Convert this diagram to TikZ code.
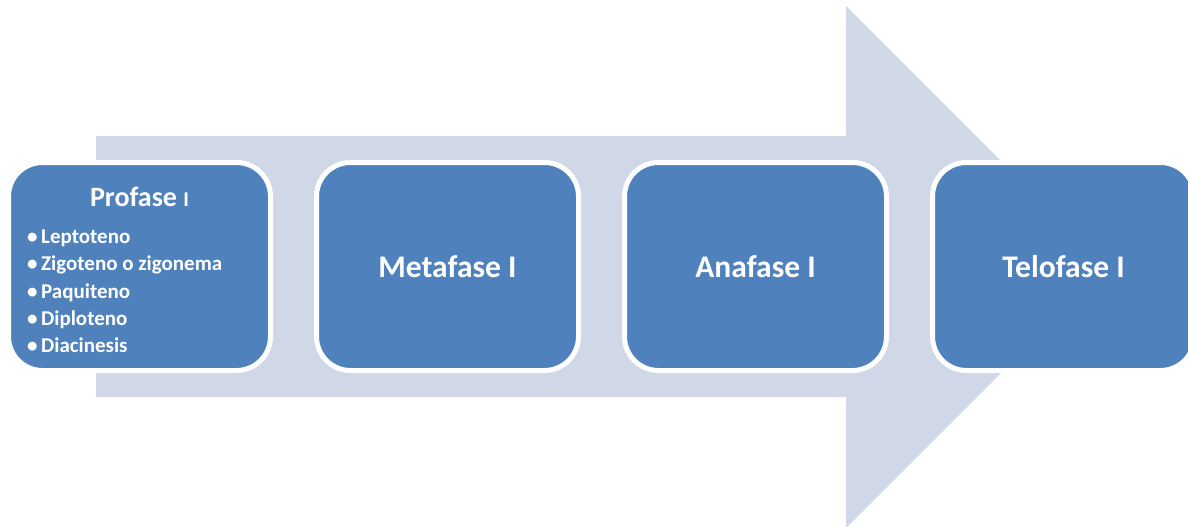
\documentclass[tikz,border=0pt]{standalone}
\usepackage{fontspec}
\setmainfont{Carlito}
\usepackage{tikz}
\usetikzlibrary{positioning, calc}
\definecolor{phasefill}{RGB}{79, 129, 189}
\definecolor{arrowfill}{RGB}{208, 216, 232}

\begin{document}
\begin{tikzpicture}[
    x=1pt, y=-1pt,
    node distance=41pt,
    phase/.style={draw=white, line width=5pt, fill=phasefill, rounded corners=34pt, minimum width=262pt, minimum height=208pt, text=white, font=\bfseries\fontsize{31.5}{38}\selectfont, align=center},
    heading/.style={text=white, font=\bfseries\fontsize{28}{33}\selectfont, inner sep=0pt},
    sublist/.style={text=white, font=\bfseries\fontsize{21}{27.3}\selectfont, align=left, inner sep=0pt}
]
    \clip (0,0) rectangle (1188,527);

    % Background arrow
    \fill[arrowfill] (96,136) -- (846,136) -- (846,6) -- (1107,267) -- (846,528) -- (846,397) -- (96,397) -- cycle;

    % Nodes - phases
    \node[phase] (profase) at (139.5,266.5) {};
    \node[phase, right=of profase] (metafase) {Metafase I};
    \node[phase, right=of metafase] (anafase) {Anafase I};
    \node[phase, right=of anafase] (telofase) {Telofase I};

    % Profase contents
    \node[heading] (protitle) at ($(profase.north)+(0,37)$) {Profase {\fontsize{21}{25}\selectfont I}};
    \node[sublist, anchor=west] (prolist) at ($(profase.west)+(21,25)$) {%
        \textbullet\,Leptoteno\\
        \textbullet\,Zigoteno o zigonema\\
        \textbullet\,Paquiteno\\
        \textbullet\,Diploteno\\
        \textbullet\,Diacinesis};
\end{tikzpicture}
\end{document}
